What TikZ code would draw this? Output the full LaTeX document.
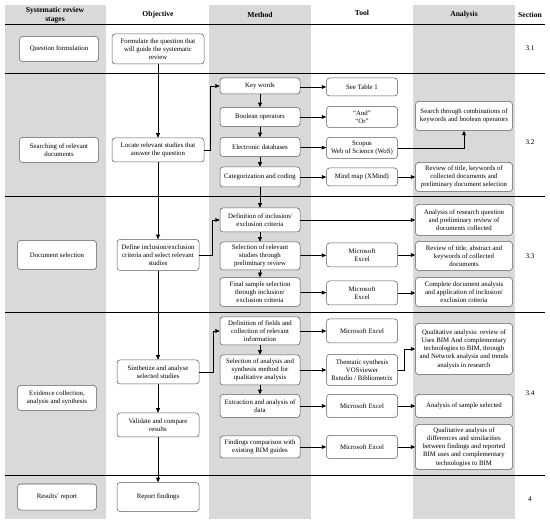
\documentclass[tikz,border=0pt]{standalone}
\usepackage{fontspec}
\setmainfont{Liberation Serif}
\usetikzlibrary{arrows.meta}
\begin{document}
\begin{tikzpicture}[x=1pt,y=-1pt,
 box/.style={draw=black!65, rounded corners=3pt, fill=white, align=center, font=\fontsize{6.8}{8.3}\selectfont, inner sep=1pt, line width=0.5pt},
 arr/.style={-{Triangle[length=4.5pt,width=3.8pt]}, line width=0.7pt},
 hdr/.style={font=\fontsize{7.6}{8.6}\selectfont\bfseries, align=center},
 sec/.style={font=\fontsize{7.2}{8}\selectfont},
 sepline/.style={line width=0.8pt},
 bandfill/.style={fill=black!15}]
\useasboundingbox (0,0) rectangle (550,524);
% column bands
\fill[bandfill] (5,5) rectangle (106,519);
\fill[bandfill] (209,5) rectangle (311,519);
\fill[bandfill] (413,5) rectangle (515,519);
% separators
\foreach \yy in {24,73,196,312,475} \draw[sepline] (5,\yy) -- (545,\yy);
% headers
\node[hdr] (h1) at (55,15) {Systematic review\\stages};
\node[hdr] (h2) at (158,15) {Objective};
\node[hdr] (h3) at (260,15) {Method};
\node[hdr] (h4) at (362,13) {Tool};
\node[hdr] (h5) at (464,15) {Analysis};
\node[hdr] (h6) at (530,15) {Section};
% sections
\node[sec] (s31) at (530,48) {3.1};
\node[sec] (s32) at (530,142) {3.2};
\node[sec] (s33) at (530,256) {3.3};
\node[sec] (s34) at (530,393) {3.4};
\node[sec] (s4) at (530,499) {4};
% stages
\node[box, minimum width=79pt, minimum height=25pt] (st1) at (59,49) {Question formulation};
\node[box, minimum width=79pt, minimum height=25pt] (st2) at (59,150) {Searching of relevant\\documents};
\node[box, minimum width=79pt, minimum height=29pt] (st3) at (57,255) {Document selection};
\node[box, minimum width=79pt, minimum height=25pt] (st4) at (57,398) {Evidence collection,\\analysis and synthesis};
\node[box, minimum width=79pt, minimum height=26pt] (st5) at (57,497) {Results' report};
% objectives
\node[box, minimum width=92pt, minimum height=30pt] (o1) at (158,49) {Formulate the question that\\will guide the systematic\\review};
\node[box, minimum width=92pt, minimum height=24pt] (o2) at (158,150) {Locate relevant studies that\\answer the question};
\node[box, minimum width=82pt, minimum height=31pt] (o3) at (158,255) {Define inclusion/exclusion\\criteria and select relevant\\studies};
\node[box, minimum width=82pt, minimum height=24pt] (o4) at (158,372) {Sinthetize and analyse\\selected studies};
\node[box, minimum width=82pt, minimum height=24pt] (o5) at (158,425) {Validate and compare\\results};
\node[box, minimum width=82pt, minimum height=29pt] (o6) at (158,497) {Report findings};
% methods
\node[box, minimum width=80pt, minimum height=16pt] (m1) at (260,86) {Key words};
\node[box, minimum width=80pt, minimum height=19pt] (m2) at (260,117) {Boolean operators};
\node[box, minimum width=80pt, minimum height=19pt] (m3) at (260,147) {Electronic databases};
\node[box, minimum width=80pt, minimum height=20pt] (m4) at (260,177) {Categorization and coding};
\node[box, minimum width=80pt, minimum height=24pt] (m5) at (260,220) {Definition of inclusion/\\exclusion criteria};
\node[box, minimum width=80pt, minimum height=28pt] (m6) at (260,256) {Selection of relevant\\studies through\\preliminary review};
\node[box, minimum width=80pt, minimum height=29pt] (m7) at (260,292) {Final sample selection\\through inclusion/\\exclusion criteria};
\node[box, minimum width=80pt, minimum height=28pt] (m8) at (260,331) {Definition of fields and\\collection of relevant\\information};
\node[box, minimum width=80pt, minimum height=30pt] (m9) at (260,370) {Selection of analysis and\\synthesis method for\\qualitative analysis};
\node[box, minimum width=80pt, minimum height=23pt] (m10) at (260,406) {Extraction and analysis of\\data};
\node[box, minimum width=80pt, minimum height=22pt] (m11) at (260,447) {Findings comparison with\\existing BIM guides};
% tools
\node[box, minimum width=71pt, minimum height=18pt] (t1) at (362,87) {See Table 1};
\node[box, minimum width=71pt, minimum height=21pt] (t2) at (362,117) {“And”\\“Or”};
\node[box, minimum width=71pt, minimum height=21pt] (t3) at (362,148) {Scopus\\Web of Science (WoS)};
\node[box, minimum width=71pt, minimum height=18pt] (t4) at (362,177) {Mind map (XMind)};
\node[box, minimum width=71pt, minimum height=24pt] (t5) at (362,255) {Microsoft\\Excel};
\node[box, minimum width=71pt, minimum height=24pt] (t6) at (362,293) {Microsoft\\Excel};
\node[box, minimum width=71pt, minimum height=24pt] (t7) at (362,331) {Microsoft Excel};
\node[box, minimum width=71pt, minimum height=31pt] (t8) at (362,370) {Thematic synthesis\\VOSviewer\\Rstudio / Bibliometrix};
\node[box, minimum width=71pt, minimum height=23pt] (t9) at (362,406) {Microsoft Excel};
\node[box, minimum width=71pt, minimum height=23pt] (t10) at (362,447) {Microsoft Excel};
% analyses
\node[box, minimum width=97pt, minimum height=29pt] (a1) at (464,116) {Search through combinations of\\keywords and boolean operators};
\node[box, minimum width=97pt, minimum height=29pt] (a2) at (464,177) {Review of title, keywords of\\collected documents and\\preliminary document selection};
\node[box, minimum width=97pt, minimum height=31pt] (a3) at (464,220) {Analysis of research question\\and preliminary review of\\documents collected};
\node[box, minimum width=97pt, minimum height=29pt] (a4) at (464,256) {Review of title, abstract and\\keywords of collected\\documents};
\node[box, minimum width=97pt, minimum height=29pt] (a5) at (464,292) {Complete document analysis\\and application of inclusion/\\exclusion criteria};
\node[box, minimum width=97pt, minimum height=51pt] (a6) at (464,349) {Qualitative analysis: review of\\Uses BIM And complementary\\technologies to BIM, through\\and Network analysis and trends\\analysis in research};
\node[box, minimum width=97pt, minimum height=23pt] (a7) at (464,406) {Analysis of sample selected};
\node[box, minimum width=97pt, minimum height=45pt] (a8) at (464,447) {Qualitative analysis of\\differences and similarities\\between findings and reported\\BIM uses and complementary\\technologies to BIM};
% objective chain
\draw[arr] (o1) -- (o2);
\draw[arr] (o2) -- (o3);
\draw[arr] (o3) -- (o4);
\draw[arr] (o4) -- (o5);
\draw[arr] (o5) -- (o6);
% objective to method
\draw[arr] (o2.east) -- ++(6,0) |- (m1.west);
\draw[arr] (o3.east) -- ++(13,0) |- (m5.west);
\draw[arr] (o4.east) -- ++(14,0) |- (m8.west);
% method chains
\draw[arr] (m1) -- (m2);
\draw[arr] (m2) -- (m3);
\draw[arr] (m3) -- (m4);
\draw[arr] (m4) -- (m5);
\draw[arr] (m5) -- (m6);
\draw[arr] (m6) -- (m7);
\draw[arr] (m8) -- (m9);
\draw[arr] (m9) -- (m10);
% method to tool
\draw[arr] (m1.east |- t1) -- (t1.west);
\draw[arr] (m2) -- (t2);
\draw[arr] (m3) -- (t3);
\draw[arr] (m4) -- (t4);
\draw[arr] (m6) -- (t5);
\draw[arr] (m7) -- (t6);
\draw[arr] (m8) -- (t7);
\draw[arr] (m9) -- (t8);
\draw[arr] (m10) -- (t9);
\draw[arr] (m11) -- (t10);
% to analysis
\draw[arr] (t3.east) -| (a1.south);
\draw[arr] (t4) -- (a2);
\draw[arr] (m5) -- (a3);
\draw[arr] (t5) -- (t5 -| a4.west);
\draw[arr] (t6) -- (t6 -| a5.west);
\draw[arr] (t8.east) -- ++(7,0) |- (a6.west);
\draw[arr] (t9) -- (a7);
\draw[arr] (t10) -- (a8);
\end{tikzpicture}
\end{document}
